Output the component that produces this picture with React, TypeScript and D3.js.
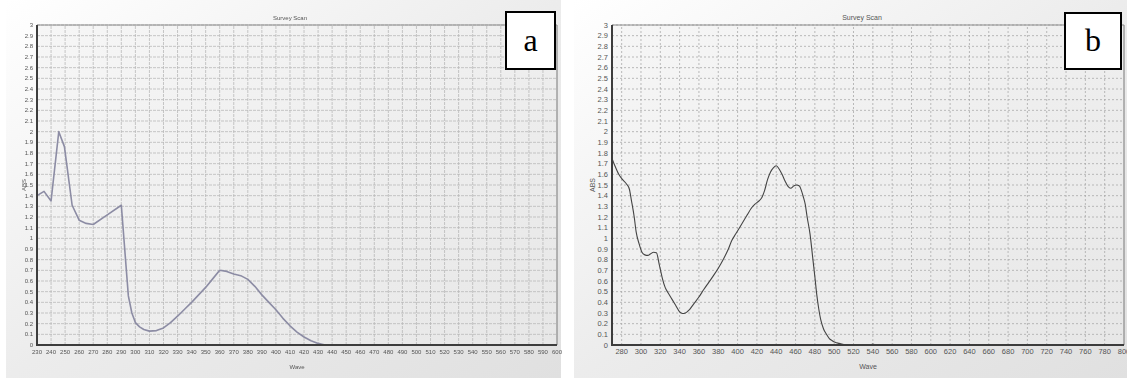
import React from "react";
import * as d3 from "d3";

// Scan (a): wavelength (nm) and absorbance
const waveA = [230, 235, 240, 245.5, 249.5, 255, 260, 265, 270, 280, 290, 295, 297.5, 300, 303, 306, 310, 315, 320, 325, 330, 335, 340, 345, 350, 355, 360, 365, 370, 375, 380, 385, 390, 395, 400, 405, 410, 415, 420, 425, 430, 435, 450, 600];
const absA = [1.40, 1.44, 1.35, 2.0, 1.86, 1.31, 1.17, 1.14, 1.13, 1.22, 1.31, 0.46, 0.3, 0.21, 0.17, 0.145, 0.13, 0.135, 0.16, 0.21, 0.27, 0.335, 0.40, 0.47, 0.54, 0.62, 0.70, 0.69, 0.665, 0.65, 0.615, 0.55, 0.47, 0.40, 0.33, 0.25, 0.18, 0.12, 0.075, 0.04, 0.015, 0, 0, 0];

// Scan (b): wavelength (nm) and absorbance
const waveB = [270, 273, 277, 281, 285, 288, 290, 293, 295, 298, 301, 304, 307, 310, 313, 316, 319, 322, 325, 328, 332, 336, 340, 343, 346, 350, 355, 360, 365, 370, 375, 380, 385, 390, 394, 398, 402, 406, 410, 414, 418, 422, 425, 428, 431, 434, 437, 440, 443, 446, 449, 452, 455, 458, 461, 464, 466, 468, 470, 472, 475, 478, 480, 482, 484, 486, 489, 492, 495, 498, 501, 505, 510, 515, 537, 540, 543, 800];
const absB = [1.75, 1.68, 1.6, 1.55, 1.51, 1.46, 1.36, 1.2, 1.06, 0.95, 0.87, 0.845, 0.84, 0.855, 0.87, 0.865, 0.75, 0.63, 0.54, 0.49, 0.43, 0.37, 0.31, 0.295, 0.30, 0.33, 0.39, 0.45, 0.52, 0.585, 0.65, 0.72, 0.80, 0.89, 0.98, 1.04, 1.10, 1.16, 1.22, 1.28, 1.32, 1.35, 1.38, 1.45, 1.55, 1.62, 1.66, 1.68, 1.65, 1.60, 1.54, 1.49, 1.47, 1.49, 1.50, 1.49, 1.45, 1.39, 1.32, 1.2, 1.04, 0.80, 0.64, 0.47, 0.34, 0.24, 0.15, 0.10, 0.06, 0.04, 0.025, 0.015, 0.005, 0, 0, 0.01, 0, 0];

// Axis ticks
const yTicks = d3.range(0, 31).map((i) => i / 10);
const xTicksA = d3.range(230, 601, 10);
const xTicksB = d3.range(280, 801, 20);

const W = 1127;
const H = 380;
const FONT = "'Liberation Sans', Arial, sans-serif";
const fmtY = (v: number) => String(Math.round(v * 10) / 10);

type PanelProps = {
  id: string;
  bg: [number, number, number, number];
  xDomain: [number, number];
  xRange: [number, number];
  xTicks: number[];
  waves: number[];
  values: number[];
  curve: d3.CurveFactory;
  lineColor: string;
  lineWidth: number;
  gridColor: string;
  gridDash: string;
  tickFont: number;
  titleX: number;
  titleFont: number;
  blur: number;
  absX: number;
};

function Panel(p: PanelProps) {
  const x = d3.scaleLinear().domain(p.xDomain).range(p.xRange);
  const y = d3.scaleLinear().domain([0, 3]).range([345, 25]);
  const [x0, x1] = p.xRange;
  const pts = p.waves.map((w, i) => [w, p.values[i]] as [number, number]);
  const line = d3
    .line<[number, number]>()
    .x((d) => x(d[0]))
    .y((d) => y(d[1]))
    .curve(p.curve);
  const [bx, by, bw, bh] = p.bg;
  return (
    <g filter={p.blur > 0 ? `url(#blur-${p.id})` : undefined}>
      <rect x={bx} y={by} width={bw} height={bh} fill="url(#bgGrad)" />
      <rect x={x0} y={y(3)} width={x1 - x0} height={y(0) - y(3)} fill="url(#plotGrad)" />
      {/* grid */}
      {yTicks.slice(1).map((t) => (
        <line key={"gy" + t} x1={x0} x2={x1} y1={y(t)} y2={y(t)} stroke={p.gridColor} strokeWidth={0.8} strokeDasharray={p.gridDash} />
      ))}
      {p.xTicks.filter((t) => t > p.xDomain[0] && t < p.xDomain[1]).map((t) => (
        <line key={"gx" + t} x1={x(t)} x2={x(t)} y1={y(0)} y2={y(3)} stroke={p.gridColor} strokeWidth={0.8} strokeDasharray={p.gridDash} />
      ))}
      {/* frame */}
      <line x1={x0} x2={x1} y1={y(3)} y2={y(3)} stroke="#8a8a8a" strokeWidth={1.2} />
      <line x1={x1} x2={x1} y1={y(3)} y2={y(0)} stroke="#8a8a8a" strokeWidth={1.2} />
      {/* curve */}
      <path d={line(pts) ?? ""} fill="none" stroke={p.lineColor} strokeWidth={p.lineWidth} strokeLinejoin="round" />
      {/* axes */}
      <line x1={x0} x2={x0} y1={y(3)} y2={y(0) + 1} stroke="#3c3c3c" strokeWidth={2} />
      <line x1={x0 - 1} x2={x1} y1={y(0)} y2={y(0)} stroke="#3c3c3c" strokeWidth={2} />
      {yTicks.map((t) => (
        <text key={"ty" + t} x={x0 - 4} y={y(t)} dy="0.35em" textAnchor="end" fontSize={p.tickFont} fill="#555" fontFamily={FONT}>
          {fmtY(t)}
        </text>
      ))}
      {p.xTicks.map((t) => (
        <text key={"tx" + t} x={x(t)} y={354} textAnchor="middle" fontSize={p.tickFont} fill="#555" fontFamily={FONT}>
          {t}
        </text>
      ))}
      <text x={p.titleX} y={20} textAnchor="middle" fontSize={p.titleFont} fill="#555" fontFamily={FONT}>
        Survey Scan
      </text>
      <text x={(x0 + x1) / 2} y={369} textAnchor="middle" fontSize={p.titleFont} fill="#555" fontFamily={FONT}>
        Wave
      </text>
      <text transform={`translate(${p.absX},185) rotate(-90)`} textAnchor="middle" fontSize={p.titleFont} fill="#555" fontFamily={FONT}>
        ABS
      </text>
    </g>
  );
}

function Tag({ x, y, w, h, label }: { x: number; y: number; w: number; h: number; label: string }) {
  return (
    <g>
      <rect x={x} y={y} width={w} height={h} fill="#fff" stroke="#000" strokeWidth={2} />
      <text x={x + w / 2} y={y + h / 2 + 10} textAnchor="middle" fontSize={32} fontFamily="'Liberation Serif', 'Times New Roman', serif" fill="#000">
        {label}
      </text>
    </g>
  );
}

export default function App() {
  return (
    <div style={{ position: "absolute", left: 0, top: 0 }}>
      <svg width={W} height={H} style={{ display: "block", background: "#fff" }}>
        <defs>
          <linearGradient id="bgGrad" x1="0" y1="0" x2="1" y2="1">
            <stop offset="0" stopColor="#ffffff" />
            <stop offset="0.5" stopColor="#ececec" />
            <stop offset="1" stopColor="#e0e0e0" />
          </linearGradient>
          <linearGradient id="plotGrad" x1="0" y1="0" x2="1" y2="1">
            <stop offset="0" stopColor="#f6f6f6" />
            <stop offset="1" stopColor="#e7e7e7" />
          </linearGradient>
          <filter id="blur-a" x="-5%" y="-5%" width="110%" height="110%">
            <feGaussianBlur stdDeviation={0.45} />
          </filter>
        </defs>
        <Panel
          id="a"
          bg={[6, 0, 555, 378]}
          xDomain={[230, 600]}
          xRange={[37, 557]}
          xTicks={xTicksA}
          waves={waveA}
          values={absA}
          curve={d3.curveLinear}
          lineColor="#8c8ca4"
          lineWidth={1.6}
          gridColor="#b9b9b9"
          gridDash="3,1"
          tickFont={6}
          titleX={290}
          titleFont={6}
          blur={0.45}
          absX={26}
        />
        <Panel
          id="b"
          bg={[574, 0, 553, 378]}
          xDomain={[270, 800]}
          xRange={[612, 1124]}
          xTicks={xTicksB}
          waves={waveB}
          values={absB}
          curve={d3.curveMonotoneX}
          lineColor="#444"
          lineWidth={1.1}
          gridColor="#aaaaaa"
          gridDash="2,2"
          tickFont={7.5}
          titleX={862}
          titleFont={7}
          blur={0}
          absX={595}
        />
        <Tag x={506} y={12} w={49} h={57} label="a" />
        <Tag x={1065} y={13} w={56} h={56} label="b" />
      </svg>
    </div>
  );
}
